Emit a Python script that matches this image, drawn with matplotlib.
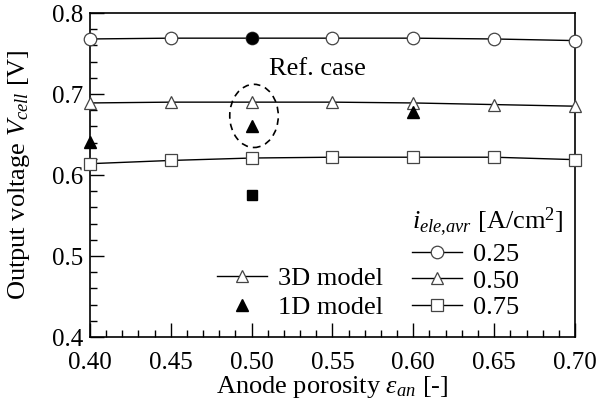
import matplotlib.pyplot as plt
from matplotlib.lines import Line2D
from matplotlib.patches import Ellipse
from matplotlib.ticker import MultipleLocator

plt.rcParams['font.family'] = 'Liberation Serif'
plt.rcParams['mathtext.fontset'] = 'custom'
plt.rcParams['mathtext.rm'] = 'Liberation Serif'
plt.rcParams['mathtext.it'] = 'Liberation Serif:italic'

# 3D model results
porosity = [0.40, 0.45, 0.50, 0.55, 0.60, 0.65, 0.70]
v3d_025 = [0.768, 0.769, 0.769, 0.769, 0.769, 0.768, 0.766]
v3d_050 = [0.689, 0.690, 0.690, 0.690, 0.689, 0.687, 0.685]
v3d_075 = [0.614, 0.618, 0.621, 0.622, 0.622, 0.622, 0.619]

# 1D model results
p1d_025 = [0.50]
v1d_025 = [0.769]
p1d_050 = [0.40, 0.50, 0.60]
v1d_050 = [0.641, 0.660, 0.678]
p1d_075 = [0.50]
v1d_075 = [0.575]

densities = ["0.25", "0.50", "0.75"]

fig = plt.figure(figsize=(5.99, 4.08), dpi=100)
ax = fig.add_axes([0.150, 0.174, 0.810, 0.794])

mk = dict(color='black', lw=1.0, markerfacecolor='white', markeredgecolor='#444444',
          markeredgewidth=0.9, clip_on=False, zorder=3)
ax.plot(porosity, v3d_025, marker='o', ms=9, **mk)
ax.plot(porosity, v3d_050, marker='^', ms=9, **mk)
ax.plot(porosity, v3d_075, marker='s', ms=8, **mk)

fk = dict(linestyle='none', color='black', clip_on=False, zorder=4)
ax.plot(p1d_025, v1d_025, marker='o', ms=8, **fk)
ax.plot(p1d_050, v1d_050, marker='^', ms=8, **fk)
ax.plot(p1d_075, v1d_075, marker='s', ms=7, **fk)

# reference case marker
ax.add_patch(Ellipse((0.5015, 0.673), 0.030, 0.078, fill=False, ls=(0, (4, 3)),
                     lw=1.2, color='black'))
ax.text(0.511, 0.731, "Ref. case", fontsize=19, ha='left', va='center')

ax.set_xlim(0.40, 0.70)
ax.set_ylim(0.4, 0.8)
ax.xaxis.set_major_locator(MultipleLocator(0.05))
ax.xaxis.set_minor_locator(MultipleLocator(0.01))
ax.yaxis.set_major_locator(MultipleLocator(0.1))
ax.yaxis.set_minor_locator(MultipleLocator(0.02))
ax.xaxis.set_major_formatter(plt.FormatStrFormatter('%.2f'))
ax.yaxis.set_major_formatter(plt.FormatStrFormatter('%.1f'))
ax.tick_params(which='both', direction='in', top=False, right=False, labelsize=18, width=1.0)
ax.tick_params(which='major', length=10)
ax.tick_params(axis='x', which='major', pad=11)
ax.tick_params(axis='y', which='major', pad=5)
ax.tick_params(which='minor', length=5)
for s in ax.spines.values():
    s.set_linewidth(1.2)

ax.set_xlabel(r"Anode porosity $\varepsilon_{an}$ [-]", fontsize=19, labelpad=0)
ax.set_ylabel(r"Output voltage $V_{cell}$ [V]", fontsize=19, labelpad=14)

model_handles = [
    Line2D([], [], color='black', lw=1.0, marker='^', ms=9, markerfacecolor='white',
           markeredgecolor='#444444', markeredgewidth=0.9),
    Line2D([], [], linestyle='none', color='black', marker='^', ms=8),
]
leg1 = ax.legend(model_handles, ["3D model", "1D model"], loc='lower left',
                 bbox_to_anchor=(0.262, 0.055), frameon=False, fontsize=19,
                 handlelength=1.9, handletextpad=0.4, labelspacing=0.2,
                 borderpad=0, borderaxespad=0)
ax.add_artist(leg1)

density_handles = [
    Line2D([], [], color='black', lw=1.0, marker=m, ms=s, markerfacecolor='white',
           markeredgecolor='#444444', markeredgewidth=0.9)
    for m, s in zip(['o', '^', 's'], [9, 9, 8])
]
leg2 = ax.legend(density_handles, densities, loc='lower left',
                 bbox_to_anchor=(0.664, 0.055), frameon=False, fontsize=19,
                 title=r"$i_{ele{,}avr}$ [A/cm$^2$]", title_fontsize=19, alignment='left',
                 handlelength=1.9, handletextpad=0.4, labelspacing=0.12,
                 borderpad=0, borderaxespad=0)

fig.savefig("out.png", dpi=100)
